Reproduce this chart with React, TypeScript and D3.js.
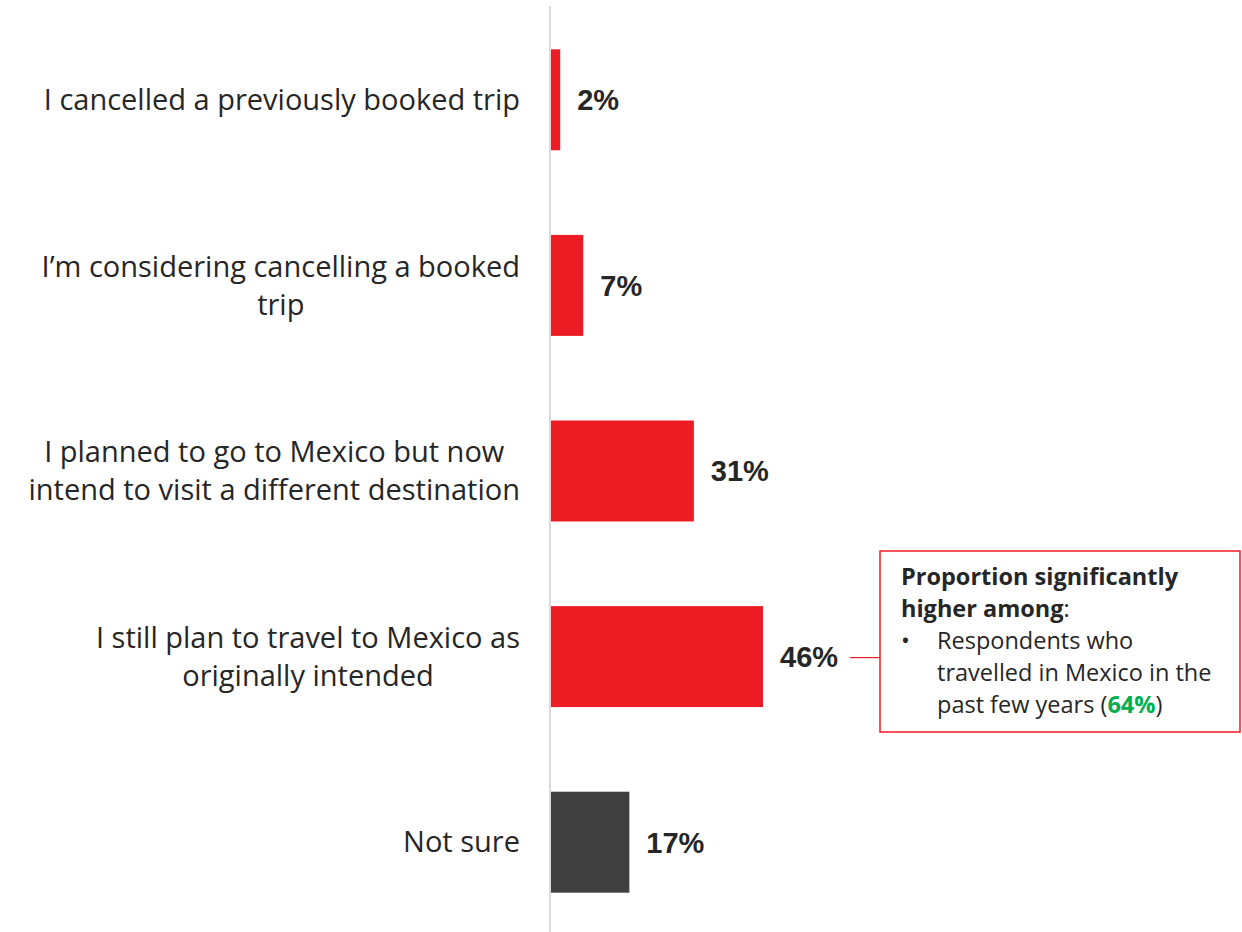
import React, { useEffect, useRef } from "react";
import * as d3 from "d3";

const categories: string[][] = [
  ["I cancelled a previously booked trip"],
  ["I’m considering cancelling a booked", "trip"],
  ["I planned to go to Mexico but now", "intend to visit a different destination"],
  ["I still plan to travel to Mexico as", "originally intended"],
  ["Not sure"],
];
const values: number[] = [2, 7, 31, 46, 17];
const barColors: string[] = ["#ED1C24", "#ED1C24", "#ED1C24", "#ED1C24", "#404040"];
const noteTitle: string[] = ["Proportion significantly", "higher among"];
const noteBullet: string[] = ["Respondents who", "travelled in Mexico in the", "past few years ("];
const noteHighlight = "64%";
const annotatedIndex = 3;

const W = 1242;
const H = 932;
const FONT = "'Open Sans', 'Noto Sans', sans-serif";
const VFONT = "'Liberation Sans', Arial, sans-serif";

export default function App() {
  const ref = useRef<SVGSVGElement | null>(null);

  useEffect(() => {
    const svg = d3.select(ref.current);
    svg.selectAll("*").remove();

    const x0 = 551;
    const x = d3.scaleLinear().domain([0, 46]).range([x0, 763]);
    const y = d3
      .scaleBand<number>()
      .domain(values.map((_, i) => i))
      .range([7, 935])
      .paddingInner(0.456)
      .paddingOuter(0.228);

    svg
      .append("line")
      .attr("x1", 550)
      .attr("x2", 550)
      .attr("y1", 6)
      .attr("y2", H)
      .attr("stroke", "#d9d9d9")
      .attr("stroke-width", 2);

    svg
      .selectAll("rect.bar")
      .data(values)
      .join("rect")
      .attr("class", "bar")
      .attr("x", x0)
      .attr("y", (_, i) => y(i)!)
      .attr("width", (d) => x(d) - x0)
      .attr("height", y.bandwidth())
      .attr("fill", (_, i) => barColors[i]);

    svg
      .selectAll("text.val")
      .data(values)
      .join("text")
      .attr("class", "val")
      .attr("x", (d) => x(d) + 17)
      .attr("y", (_, i) => y(i)! + y.bandwidth() / 2)
      .attr("dy", "0.36em")
      .attr("font-family", VFONT)
      .attr("font-weight", 700)
      .attr("font-size", 29)
      .attr("fill", "#262626")
      .text((d) => `${d}%`);

    const lineH = 38;
    const right = 520;
    categories.forEach((lines, i) => {
      const cy = y(i)! + y.bandwidth() / 2;
      const g = svg.append("g");
      const texts = lines.map((ln, j) =>
        g
          .append("text")
          .attr("y", cy + (j - (lines.length - 1) / 2) * lineH)
          .attr("dy", "0.35em")
          .attr("text-anchor", "middle")
          .attr("font-family", FONT)
          .attr("font-size", 29)
          .attr("fill", "#262626")
          .text(ln)
      );
      const maxW = d3.max(texts, (t) => (t.node() as SVGTextElement).getComputedTextLength()) || 0;
      texts.forEach((t) => t.attr("x", right - maxW / 2));
    });

    const ay = y(annotatedIndex)! + y.bandwidth() / 2 + 1;
    const bx = 880, by = 551, bw = 360, bh = 181;
    svg
      .append("line")
      .attr("x1", 850)
      .attr("x2", bx)
      .attr("y1", ay)
      .attr("y2", ay)
      .attr("stroke", "#ED1C24")
      .attr("stroke-width", 1.2);
    svg
      .append("rect")
      .attr("x", bx)
      .attr("y", by)
      .attr("width", bw)
      .attr("height", bh)
      .attr("fill", "white")
      .attr("stroke", "#ED1C24")
      .attr("stroke-width", 1.5);

    const nfs = 23.5;
    const nl = 32;
    const ty0 = by + 26;
    noteTitle.forEach((ln, j) => {
      const t = svg
        .append("text")
        .attr("x", 901)
        .attr("y", ty0 + j * nl)
        .attr("dy", "0.35em")
        .attr("font-family", FONT)
        .attr("font-size", nfs)
        .attr("fill", "#262626");
      t.append("tspan").attr("font-weight", 700).text(ln);
      if (j === noteTitle.length - 1) t.append("tspan").text(":");
    });
    svg
      .append("text")
      .attr("x", 901)
      .attr("y", ty0 + 2 * nl)
      .attr("dy", "0.35em")
      .attr("font-family", FONT)
      .attr("font-size", nfs)
      .attr("fill", "#262626")
      .text("•");
    noteBullet.forEach((ln, j) => {
      const t = svg
        .append("text")
        .attr("x", 937)
        .attr("y", ty0 + (2 + j) * nl)
        .attr("dy", "0.35em")
        .attr("font-family", FONT)
        .attr("font-size", nfs)
        .attr("fill", "#262626");
      t.append("tspan").text(ln);
      if (j === noteBullet.length - 1) {
        t.append("tspan").attr("font-weight", 700).attr("fill", "#00B050").text(noteHighlight);
        t.append("tspan").text(")");
      }
    });
  }, []);

  return (
    <div style={{ position: "absolute", left: 0, top: 0 }}>
      <svg ref={ref} width={W} height={H} style={{ display: "block", background: "white" }} />
    </div>
  );
}
